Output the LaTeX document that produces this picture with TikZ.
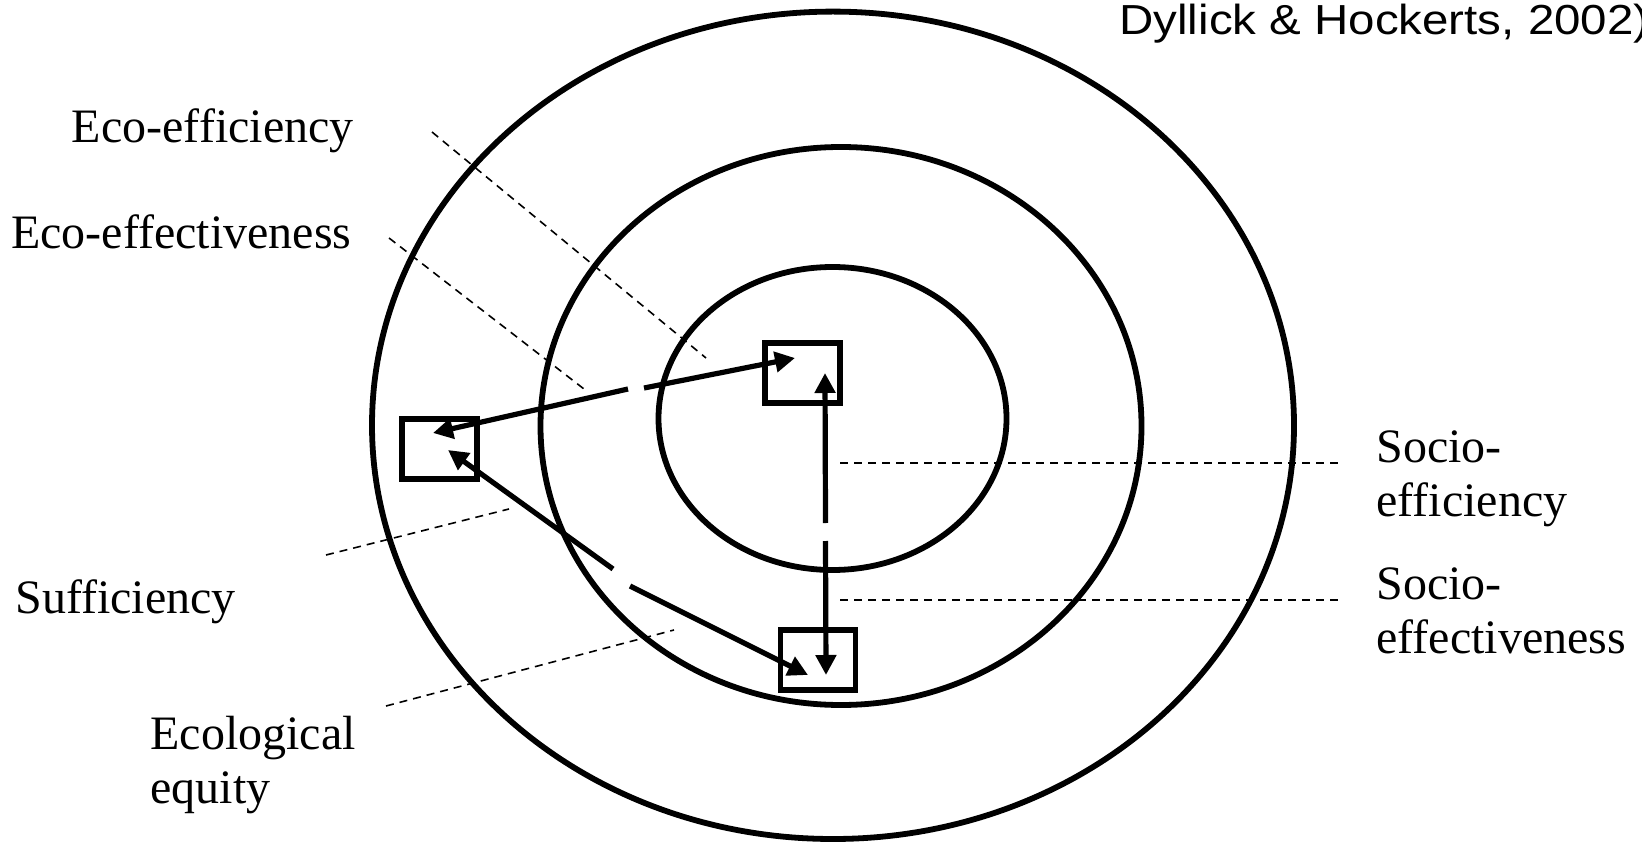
\documentclass[tikz,border=0pt]{standalone}
\usepackage{fontspec}
\usepackage{graphicx}
\setmainfont{Liberation Serif}
\newfontfamily\arialfont{Liberation Sans}
\usetikzlibrary{arrows.meta}
\begin{document}
\begin{tikzpicture}[x=0.5pt,y=-0.5pt,
  ring/.style={line width=2.9pt},
  box/.style={draw,line width=2.9pt,minimum width=37.5pt,minimum height=30pt,inner sep=0pt},
  arr/.style={line width=2.6pt,-{Triangle[length=10pt,width=10pt]}},
  lead/.style={line width=0.8pt,dash pattern=on 4pt off 3pt},
  lbl/.style={inner sep=0pt,font=\fontsize{24pt}{27pt}\selectfont,align=left}]
\useasboundingbox (0,0) rectangle (1642,844);
\fill[white] (0,0) rectangle (1642,844);
% rings
\draw[ring] (833,425.3) ellipse [x radius=230.5pt, y radius=206.85pt];
\draw[ring] (841,426) ellipse [x radius=150.25pt, y radius=139.5pt];
\draw[ring] (832.5,418.5) ellipse [x radius=87pt, y radius=75.75pt];
% boxes
\node[box] (L) at (439.5,449) {};
\node[box] (U) at (802.5,373) {};
\node[box] (B) at (818,660) {};
% arrow tips and breaks
\coordinate (L1) at (433,433);
\coordinate (L2) at (448,450);
\coordinate (U1) at (795,358);
\coordinate (U2) at (825,373);
\coordinate (B1) at (808,675);
\coordinate (B2) at (826,675);
\coordinate (g1a) at (628,389);
\coordinate (g1b) at (644,388);
\coordinate (g2a) at (613,569);
\coordinate (g2b) at (630,586);
\coordinate (g3a) at (825.5,523);
\coordinate (g3b) at (825.5,541);
\draw[arr] (g1a) -- (L1);
\draw[arr] (g1b) -- (U1);
\draw[arr] (g2a) -- (L2);
\draw[arr] (g2b) -- (B1);
\draw[arr] (g3a) -- (U2);
\draw[arr] (g3b) -- (B2);
% leader lines
\coordinate (e1a) at (432,132); \coordinate (e1b) at (706,358);
\coordinate (e2a) at (389,238); \coordinate (e2b) at (584,389);
\coordinate (sa) at (326,555);  \coordinate (sb) at (509,509);
\coordinate (qa) at (386,706);  \coordinate (qb) at (674,630);
\coordinate (s1a) at (840,463); \coordinate (s1b) at (1339,463);
\coordinate (s2a) at (840,600); \coordinate (s2b) at (1339,600);
\draw[lead] (e1a) -- (e1b);
\draw[lead] (e2a) -- (e2b);
\draw[lead] (sa) -- (sb);
\draw[lead] (qa) -- (qb);
\draw[lead] (s1a) -- (s1b);
\draw[lead] (s2a) -- (s2b);
% labels
\node[lbl,anchor=base east] (t1) at (354,143) {Eco-efficiency};
\node[lbl,anchor=base east] (t2) at (352,249) {Eco-effectiveness};
\node[lbl,anchor=base west] (t3) at (15,613) {Sufficiency};
\node[lbl,anchor=north west] (t4) at (150,716) {Ecological\\equity};
\node[lbl,anchor=north west] (t5) at (1376,430) {Socio-\\efficiency};
\node[lbl,anchor=north west] (t6) at (1376,567) {Socio-\\effectiveness};
\node[inner sep=0pt,anchor=base west,font=\arialfont\fontsize{21pt}{24pt}\selectfont] (src) at (1119,35) {\scalebox{1.13}[1]{Dyllick \& Hockerts, 2002)}};
\end{tikzpicture}
\end{document}
